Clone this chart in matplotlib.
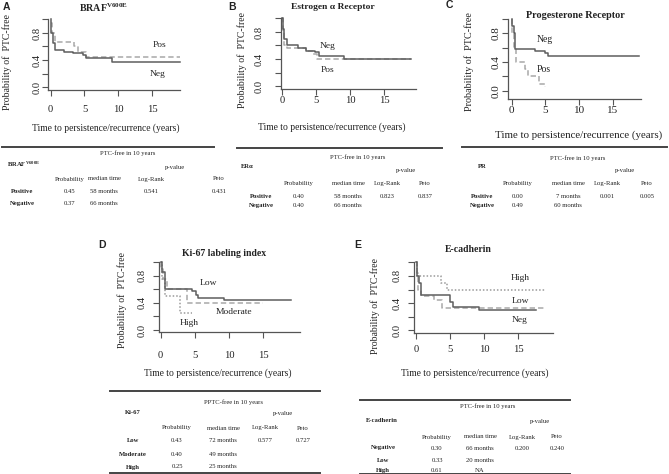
import matplotlib
matplotlib.use('Agg')
import matplotlib.pyplot as plt
from matplotlib.lines import Line2D

plt.rcParams['mathtext.fontset'] = 'custom'
plt.rcParams['mathtext.rm'] = 'Liberation Serif'
plt.rcParams['mathtext.bf'] = 'Liberation Serif:bold'
plt.rcParams['mathtext.it'] = 'Liberation Serif:italic'
plt.rcParams['font.family'] = ['Liberation Serif', 'DejaVu Serif']

W, H = 669, 474
SERIF = 'Liberation Serif'
SANS = 'Liberation Sans'
TXT = '#222222'
AXC = '#555555'

# ---------------- data (Kaplan-Meier step curves) ----------
braf_neg_t = [0, 0.1, 0.3, 0.6, 1.9, 3.3, 4.85, 5.2, 9.05, 19.2]
braf_neg_s = [1.0, 0.8, 0.65, 0.55, 0.52, 0.50, 0.47, 0.43, 0.37, 0.37]
braf_pos_t = [0, 0.2, 0.6, 3.5, 4.0, 5.2, 19.2]
braf_pos_s = [0.95, 0.8, 0.67, 0.60, 0.52, 0.45, 0.45]

er_neg_t = [0, 0.1, 0.3, 0.7, 2.3, 3.5, 4.9, 5.4, 9.1, 19.0]
er_neg_s = [1.0, 0.85, 0.7, 0.6, 0.57, 0.52, 0.5, 0.45, 0.40, 0.40]
er_pos_t = [0, 0.1, 0.3, 0.8, 3.5, 4.5, 5.2, 19.0]
er_pos_s = [1.0, 0.8, 0.6, 0.57, 0.52, 0.47, 0.40, 0.40]

pr_neg_t = [0, 0.1, 0.3, 0.5, 3.4, 4.9, 5.4, 18.8]
pr_neg_s = [1.0, 0.9, 0.8, 0.58, 0.55, 0.52, 0.49, 0.49]
pr_pos_t = [0, 0.1, 0.3, 0.6, 2.0, 2.4, 4.1, 4.9, 5.0]
pr_pos_s = [1.0, 0.8, 0.6, 0.4, 0.3, 0.2, 0.1, 0.05, 0.05]

ki_low_t = [0, 0.2, 0.6, 4.6, 5.1, 5.4, 9.2, 19.0]
ki_low_s = [1.0, 0.85, 0.6, 0.57, 0.52, 0.48, 0.44, 0.44]
ki_mod_t = [0, 0.1, 0.3, 0.9, 3.8, 15.0]
ki_mod_s = [1.0, 0.9, 0.75, 0.6, 0.4, 0.4]
ki_high_t = [0, 0.2, 0.7, 2.8, 4.6]
ki_high_s = [1.0, 0.75, 0.5, 0.25, 0.25]

ec_high_t = [0, 0.2, 3.7, 4.5, 19.1]
ec_high_s = [1.0, 0.8, 0.7, 0.6, 0.6]
ec_low_t = [0, 0.2, 0.5, 0.8, 5.0, 5.4, 9.2, 17.6]
ec_low_s = [1.0, 0.8, 0.7, 0.52, 0.42, 0.35, 0.30, 0.30]
ec_neg_t = [0, 0.1, 0.3, 0.8, 2.7, 3.8, 19.0]
ec_neg_s = [1.0, 0.85, 0.6, 0.5, 0.45, 0.33, 0.33]

x_ticks = [0, 5, 10, 15]
x_ticklabels = ['0', '5', '10', '15']
y_ticks = [0.0, 0.2, 0.4, 0.6, 0.8, 1.0]
y_ticklabels = ['0.0', '', '0.4', '', '0.8', '']

col_headers = ['Probability', 'median time', 'Log-Rank', 'Peto']

braf_rows = ['Positive', 'Negative']
braf_vals = [['0.45', '58 months', '0.541', '0.431'], ['0.37', '66 months', '', '']]
er_rows = ['Positive', 'Negative']
er_vals = [['0.40', '58 months', '0.823', '0.837'], ['0.40', '66 months', '', '']]
pr_rows = ['Positive', 'Negative']
pr_vals = [['0.00', '7 months', '0.001', '0.005'], ['0.49', '60 months', '', '']]
ki_rows = ['Low', 'Moderate', 'High']
ki_vals = [['0.43', '72 months', '0.577', '0.727'], ['0.40', '49 months', '', ''],
           ['0.25', '25 months', '', '']]
ec_rows = ['Negative', 'Low', 'High']
ec_vals = [['0.30', '66 months', '0.200', '0.240'], ['0.33', '20 months', '', ''],
           ['0.61', 'NA', '', '']]

fig = plt.figure(figsize=(W / 100, H / 100), dpi=100)


def T(x, y, s, size=6.8, ha='center', va='center', weight='normal', family=SERIF, **kw):
    fig.text(x / W, 1 - y / H, s, ha=ha, va=va, fontsize=size, fontweight=weight,
             family=family, color=TXT, **kw)


def hline(x1, x2, y, lw=1.4):
    fig.add_artist(Line2D([x1 / W, x2 / W], [1 - y / H, 1 - y / H], color='#444444',
                          lw=lw, transform=fig.transFigure))


def make_axes(x0, sx, y0, sy, yaxis_px, xaxis_px, xend_px, ypad, xpad, tsize=7.6):
    xl = (-1.5, 21.5)
    yl = (-0.15, 1.08)
    left = x0 + xl[0] * sx
    right = x0 + xl[1] * sx
    top = y0 - yl[1] * sy
    bottom = y0 - yl[0] * sy
    ax = fig.add_axes([left / W, 1 - bottom / H, (right - left) / W, (bottom - top) / H])
    ax.set_xlim(*xl)
    ax.set_ylim(*yl)
    ax.patch.set_alpha(0)
    xs = (yaxis_px - x0) / sx
    ys = (y0 - xaxis_px) / sy
    for s in ['top', 'right']:
        ax.spines[s].set_visible(False)
    ax.spines['left'].set_position(('data', xs))
    ax.spines['bottom'].set_position(('data', ys))
    ax.spines['left'].set_bounds(ys, 1.0)
    ax.spines['bottom'].set_bounds(xs, (xend_px - x0) / sx)
    for s in ['left', 'bottom']:
        ax.spines[s].set_color(AXC)
        ax.spines[s].set_linewidth(0.9)
    ax.set_xticks(x_ticks)
    ax.set_xticklabels(x_ticklabels, fontsize=tsize, family=SERIF, color=TXT)
    ax.set_yticks(y_ticks)
    ax.set_yticklabels(y_ticklabels, fontsize=tsize, family=SERIF, color=TXT,
                       rotation=90, va='center')
    ax.tick_params(axis='both', length=4, width=0.8, color=AXC)
    ax.tick_params(axis='y', pad=ypad)
    ax.tick_params(axis='x', pad=xpad)
    return ax


def km(ax, t, s, style):
    if style == 'solid':
        ax.plot(t, s, drawstyle='steps-post', color='#5e5e5e', lw=1.1, ls='-')
    elif style == 'dashed':
        ax.plot(t, s, drawstyle='steps-post', color='#a8a8a8', lw=1.1, ls=(0, (3.5, 2)))
    else:
        ax.plot(t, s, drawstyle='steps-post', color='#9a9a9a', lw=1.1, ls=(0, (1, 1.3)))


def table(line_x, line_y, header, hx, hy, name, nx, ny, pvx, pvy, coly, colx, rowy,
          rowx, rows, vals, bottom_y=None, size=4.8, name_ha='center'):
    hline(line_x[0], line_x[1], line_y)
    if bottom_y is not None:
        hline(line_x[0], line_x[1], bottom_y)
    T(hx, hy, header, size=size)
    T(nx, ny, name, size=size, weight='bold', ha=name_ha)
    T(pvx, pvy, 'p-value', size=size)
    for c, x in zip(col_headers, colx):
        T(x, coly, c, size=size)
    for r, y, v in zip(rows, rowy, vals):
        T(rowx, y, r, size=size, weight='bold')
        for val, x in zip(v, colx):
            if val:
                T(x, y, val, size=size)


# ---------------- Panel A ----------------
axA = make_axes(50.7, 6.75, 87.0, 67.5, 48.3, 90.0, 180, ypad=0.5, xpad=7.0)
km(axA, braf_pos_t, braf_pos_s, 'dashed')
km(axA, braf_neg_t, braf_neg_s, 'solid')
T(6, 7, 'A', size=7.5, weight='bold', family=SANS)
T(104, 8, r'$\mathbf{BRAF}^{\mathbf{V600E}}$', size=7.2)
T(7.3, 62, 'Probability of  PTC-free', size=7.0, rotation=90)
T(106, 128, 'Time to persistence/recurrence (years)', size=6.9)
T(160, 45, 'Pos', size=6.8)
T(158, 74, 'Neg', size=6.8)

# ---------------- Panel B ----------------
axB = make_axes(282.0, 6.8, 86.0, 67.5, 280.5, 89.3, 416, ypad=8.5, xpad=0.8)
km(axB, er_pos_t, er_pos_s, 'dashed')
km(axB, er_neg_t, er_neg_s, 'solid')
T(232, 7, 'B', size=7.5, weight='bold', family=SANS)
T(333, 7, 'Estrogen α Receptor', size=6.8, weight='bold')
T(241.7, 60, 'Probability of  PTC-free', size=7.0, rotation=90)
T(332, 127, 'Time to persistence/recurrence (years)', size=6.9)
T(328, 46, 'Neg', size=6.8)
T(328, 70, 'Pos', size=6.8)

# ---------------- Panel C ----------------
axC = make_axes(511.7, 6.75, 90.7, 71.7, 508.0, 99.0, 641, ypad=1.3, xpad=0.8, tsize=8.0)
km(axC, pr_pos_t, pr_pos_s, 'dashed')
km(axC, pr_neg_t, pr_neg_s, 'solid')
T(449, 5, 'C', size=7.5, weight='bold', family=SANS)
T(575, 15, 'Progesterone Receptor', size=7.3, weight='bold')
T(469, 62, 'Probability of  PTC-free', size=7.3, rotation=90)
T(579, 135, 'Time to persistence/recurrence (years)', size=7.8)
T(545, 40, 'Neg', size=7.0)
T(544, 70, 'Pos', size=7.0)

# ---------------- Panel D ----------------
axD = make_axes(160.7, 6.84, 330.0, 67.7, 159.3, 332.3, 300, ypad=5.3, xpad=9.5)
km(axD, ki_mod_t, ki_mod_s, 'dashed')
km(axD, ki_high_t, ki_high_s, 'dotted')
km(axD, ki_low_t, ki_low_s, 'solid')
T(102, 245, 'D', size=7.5, weight='bold', family=SANS)
T(224, 253, 'Ki-67 labeling index', size=7.0, weight='bold')
T(121.7, 300, 'Probability of  PTC-free', size=7.0, rotation=90)
T(218, 373, 'Time to persistence/recurrence (years)', size=6.9)
T(208, 283, 'Low', size=6.8)
T(234, 312, 'Moderate', size=6.8)
T(189, 323, 'High', size=6.8)

# ---------------- Panel E ----------------
axE = make_axes(416.0, 6.82, 330.3, 68.0, 414.3, 332.7, 553, ypad=5.3, xpad=4.7)
km(axE, ec_high_t, ec_high_s, 'dotted')
km(axE, ec_neg_t, ec_neg_s, 'dashed')
km(axE, ec_low_t, ec_low_s, 'solid')
T(358, 245, 'E', size=7.5, weight='bold', family=SANS)
T(468, 249, 'E-cadherin', size=7.0, weight='bold')
T(375, 306, 'Probability of  PTC-free', size=7.0, rotation=90)
T(475, 373, 'Time to persistence/recurrence (years)', size=6.9)
T(520, 278, 'High', size=6.8)
T(520, 301, 'Low', size=6.8)
T(520, 320, 'Neg', size=6.8)

# ---------------- Tables ----------------
table((2, 214), 146.7, 'PTC-free in 10 years', 128, 153,
      r'$\mathbf{BRAF}^{\mathbf{V600E}}$', 7, 164, 175, 168,
      179, [70, 104, 151.7, 219], [191.7, 203.3], 22, braf_rows, braf_vals, name_ha='left')
table((237, 442), 148, 'PTC-free in 10 years', 358, 157, 'ERα', 247, 167, 406, 170,
      184, [299, 348, 387, 425], [197, 205.3], 261, er_rows, er_vals)
table((462, 667), 147, 'PTC-free in 10 years', 578, 158, 'PR', 482, 167, 625, 170,
      184, [518, 568, 607, 647], [197, 205.3], 482, pr_rows, pr_vals)
table((110, 320), 391, 'PPTC-free in 10 years', 233, 402, 'Ki-67', 133, 412, 283, 413,
      428, [177, 223, 265, 303], [441, 455, 467], 133, ki_rows, ki_vals, bottom_y=473)
table((360, 570), 400, 'PTC-free in 10 years', 488, 406, 'E-cadherin', 382, 421, 540, 422,
      437, [437, 480, 522, 557], [448, 461, 470.3], 383, ec_rows, ec_vals, bottom_y=473.6)

fig.savefig('out.png', dpi=100)
